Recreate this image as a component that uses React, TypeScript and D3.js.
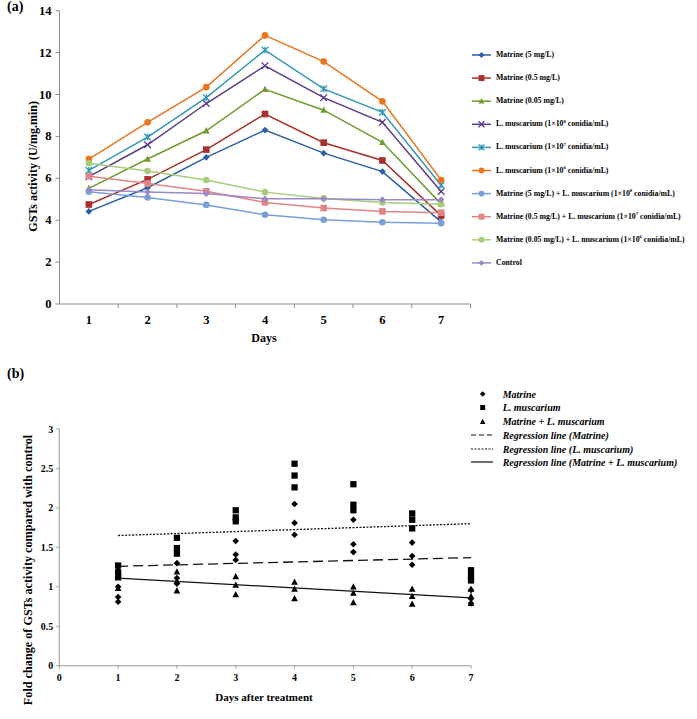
import React from "react";
import * as d3 from "d3";

// ---------- Chart (a) data ----------
const daysA = [1, 2, 3, 4, 5, 6, 7];
const seriesNamesA = [
  "Matrine (5 mg/L)",
  "Matrine (0.5 mg/L)",
  "Matrine (0.05 mg/L)",
  "L. muscarium (1×10|8| conidia/mL)",
  "L. muscarium (1×10|7| conidia/mL)",
  "L. muscarium (1×10|6| conidia/mL)",
  "Matrine (5 mg/L) + L. muscarium (1×10|8| conidia/mL)",
  "Matrine (0.5 mg/L) + L. muscarium (1×10|7| conidia/mL)",
  "Matrine (0.05 mg/L) + L. muscarium (1×10|6| conidia/mL)",
  "Control",
];
const matrine5 = [4.42, 5.55, 7.0, 8.3, 7.2, 6.32, 3.92];
const matrine05 = [4.75, 5.95, 7.37, 9.07, 7.7, 6.85, 4.22];
const matrine005 = [5.52, 6.92, 8.27, 10.25, 9.25, 7.72, 4.78];
const lm8 = [6.08, 7.6, 9.57, 11.37, 9.85, 8.67, 5.37];
const lm7 = [6.38, 7.97, 9.85, 12.12, 10.27, 9.15, 5.67];
const lm6 = [6.92, 8.67, 10.35, 12.82, 11.57, 9.67, 5.92];
const combo5 = [5.36, 5.08, 4.73, 4.26, 4.02, 3.9, 3.86];
const combo05 = [6.1, 5.75, 5.38, 4.85, 4.58, 4.42, 4.36];
const combo005 = [6.72, 6.35, 5.92, 5.34, 5.04, 4.85, 4.76];
const control = [5.45, 5.35, 5.27, 5.02, 5.02, 4.98, 4.98];
const seriesValuesA = [matrine5, matrine05, matrine005, lm8, lm7, lm6, combo5, combo05, combo005, control];
const colorsA = ["#2b5ea8", "#a8302c", "#6f9b30", "#5a3c8c", "#3197b4", "#e8761f", "#7a9ed8", "#e08586", "#a6cc7c", "#9a89c6"];
const markersA = ["diamond", "square", "triangle", "x", "star", "circle", "circle", "square", "circle", "diamond"];
const yTicksA = [0, 2, 4, 6, 8, 10, 12, 14];

// ---------- Chart (b) data ----------
const daysB = [1, 2, 3, 4, 5, 6, 7];
const matrineFold = [
  [0.81, 0.87, 1.0],
  [1.04, 1.11, 1.3],
  [1.34, 1.41, 1.58],
  [1.66, 1.81, 2.05],
  [1.44, 1.54, 1.85],
  [1.28, 1.39, 1.56],
  [0.79, 0.85, 0.96],
];
const lmFold = [
  [1.12, 1.18, 1.27],
  [1.42, 1.49, 1.62],
  [1.83, 1.88, 1.97],
  [2.26, 2.41, 2.56],
  [1.97, 2.04, 2.3],
  [1.74, 1.85, 1.93],
  [1.08, 1.14, 1.21],
];
const comboFold = [
  [0.98, 1.12, 1.23],
  [0.95, 1.07, 1.19],
  [0.9, 1.02, 1.13],
  [0.85, 0.97, 1.06],
  [0.8, 0.92, 1.0],
  [0.78, 0.88, 0.97],
  [0.79, 0.88, 0.97],
];
const regDays = [1, 7];
const regMatrine = [1.26, 1.37];
const regLm = [1.65, 1.8];
const regCombo = [1.11, 0.86];
const xTicksB = [0, 1, 2, 3, 4, 5, 6, 7];
const yTicksB = [0, 0.5, 1, 1.5, 2, 2.5, 3];
const legendB = [
  "Matrine",
  "L. muscarium",
  "Matrine + L. muscarium",
  "Regression line (Matrine)",
  "Regression line (L. muscarium)",
  "Regression line (Matrine + L. muscarium)",
];

const FONT = "'Liberation Serif', 'Times New Roman', serif";

function Marker({ type, x, y, color, s = 1 }: { type: string; x: number; y: number; color: string; s?: number }) {
  const r = 3.3 * s;
  switch (type) {
    case "diamond":
      return <path d={`M${x},${y - r}L${x + r},${y}L${x},${y + r}L${x - r},${y}Z`} fill={color} />;
    case "square":
      return <rect x={x - r} y={y - r} width={2 * r} height={2 * r} fill={color} />;
    case "triangle":
      return <path d={`M${x},${y - r * 1.1}L${x + r},${y + r * 0.8}L${x - r},${y + r * 0.8}Z`} fill={color} />;
    case "x":
      return (
        <path d={`M${x - r},${y - r}L${x + r},${y + r}M${x - r},${y + r}L${x + r},${y - r}`} stroke={color} strokeWidth={1.3} fill="none" />
      );
    case "star":
      return (
        <path
          d={`M${x - r},${y - r}L${x + r},${y + r}M${x - r},${y + r}L${x + r},${y - r}M${x},${y - r}L${x},${y + r}`}
          stroke={color}
          strokeWidth={1.3}
          fill="none"
        />
      );
    default:
      return <circle cx={x} cy={y} r={r} fill={color} />;
  }
}

function LegendText({ text, x, y, size }: { text: string; x: number; y: number; size: number }) {
  const parts = text.split("|");
  return (
    <text x={x} y={y} fontSize={size} fontWeight="bold" fontFamily={FONT} dominantBaseline="middle">
      {parts.map((p, i) =>
        i % 2 === 1 ? (
          <tspan key={i} fontSize={size * 0.6} dy={-size * 0.35}>
            {p}
          </tspan>
        ) : (
          <tspan key={i} dy={i > 0 ? size * 0.35 : 0}>
            {p}
          </tspan>
        )
      )}
    </text>
  );
}

function ChartA() {
  const left = 59.5, right = 470.5, top = 10.7, bottom = 304;
  const x = d3.scaleBand<number>().domain(daysA).range([left, right]);
  const y = d3.scaleLinear().domain([0, 14]).range([bottom, top]);
  const line = d3
    .line<number>()
    .x((_, i) => (x(daysA[i]) as number) + x.bandwidth() / 2)
    .y((v) => y(v));
  const axisColor = "#8c8c8c";
  return (
    <g>
      <text x={7} y={11} fontSize={14} fontWeight="bold" fontFamily={FONT}>(a)</text>
      {/* y axis */}
      <line x1={left} x2={left} y1={top} y2={bottom} stroke={axisColor} strokeWidth={1} />
      {yTicksA.map((t) => (
        <g key={t}>
          <line x1={left - 4} x2={left} y1={y(t)} y2={y(t)} stroke={axisColor} />
          <text x={left - 8} y={y(t)} textAnchor="end" dominantBaseline="central" fontSize={12.5} fontWeight="bold" fontFamily={FONT}>
            {t}
          </text>
        </g>
      ))}
      {/* x axis */}
      <line x1={left} x2={right} y1={bottom} y2={bottom} stroke={axisColor} strokeWidth={1} />
      {daysA.map((d) => (
        <g key={d}>
          <line x1={(x(d) as number) + x.bandwidth()} x2={(x(d) as number) + x.bandwidth()} y1={bottom} y2={bottom + 4} stroke={axisColor} />
          <text x={(x(d) as number) + x.bandwidth() / 2} y={bottom + 16} textAnchor="middle" fontSize={12.5} fontWeight="bold" fontFamily={FONT} dominantBaseline="central">
            {d}
          </text>
        </g>
      ))}
      <text x={264} y={338} textAnchor="middle" fontSize={12} fontWeight="bold" fontFamily={FONT} dominantBaseline="central">
        Days
      </text>
      <text
        transform={`translate(33,${(top + bottom) / 2 + 9}) rotate(-90)`}
        textAnchor="middle"
        fontSize={12}
        fontWeight="bold"
        fontFamily={FONT}
        dominantBaseline="central"
      >
        GSTs activity (U/mg.min)
      </text>
      {/* series */}
      {seriesValuesA.map((vals, si) => (
        <g key={si}>
          <path d={line(vals) || ""} fill="none" stroke={colorsA[si]} strokeWidth={1.5} />
          {vals.map((v, i) => (
            <Marker key={i} type={markersA[si]} x={(x(daysA[i]) as number) + x.bandwidth() / 2} y={y(v)} color={colorsA[si]} />
          ))}
        </g>
      ))}
      {/* legend */}
      {seriesNamesA.map((name, i) => {
        const ly = 55 + i * 23.1;
        return (
          <g key={i}>
            <line x1={472} x2={491} y1={ly} y2={ly} stroke={colorsA[i]} strokeWidth={1.5} />
            <Marker type={markersA[i]} x={481.5} y={ly} color={colorsA[i]} s={0.9} />
            <LegendText text={name} x={496} y={ly} size={7.8} />
          </g>
        );
      })}
    </g>
  );
}

function ChartB() {
  const left = 59.3, right = 471, top = 429, bottom = 665.7;
  const x = d3.scaleLinear().domain([0, 7]).range([left, right]);
  const y = d3.scaleLinear().domain([0, 3]).range([bottom, top]);
  const axisColor = "#9a9a9a";
  const reg = (vals: number[], dash: string | undefined, w: number, key: string) => {
    const l = d3
      .line<number>()
      .x((_, i) => x(regDays[i]))
      .y((v) => y(v));
    return <path key={key} d={l(vals) || ""} fill="none" stroke="#111" strokeWidth={w} strokeDasharray={dash} />;
  };
  const pts = (data: number[][], type: string) =>
    data.map((vals, di) =>
      vals.map((v, j) => <Marker key={`${type}-${di}-${j}`} type={type} x={x(daysB[di])} y={y(v)} color="#000" s={type === "square" ? 0.95 : 1.0} />)
    );
  const legY = [394, 407.5, 421.3, 435, 449, 462];
  return (
    <g>
      <text x={7} y={373} fontSize={14} fontWeight="bold" fontFamily={FONT} dominantBaseline="central">(b)</text>
      <line x1={left} x2={left} y1={top} y2={bottom} stroke={axisColor} />
      {yTicksB.map((t) => (
        <g key={t}>
          <line x1={left - 3} x2={left} y1={y(t)} y2={y(t)} stroke={axisColor} />
          <text x={left - 6} y={y(t)} textAnchor="end" dominantBaseline="central" fontSize={10} fontWeight="bold" fontFamily={FONT}>
            {t}
          </text>
        </g>
      ))}
      <line x1={left} x2={right} y1={bottom} y2={bottom} stroke={axisColor} />
      {xTicksB.map((t) => (
        <g key={t}>
          <line x1={x(t)} x2={x(t)} y1={bottom} y2={bottom + 3} stroke={axisColor} />
          <text x={x(t)} y={bottom + 12} textAnchor="middle" dominantBaseline="central" fontSize={10} fontWeight="bold" fontFamily={FONT}>
            {t}
          </text>
        </g>
      ))}
      <text x={264} y={697} textAnchor="middle" dominantBaseline="central" fontSize={11} fontWeight="bold" fontFamily={FONT}>
        Days after treatment
      </text>
      <text
        transform={`translate(28,570) rotate(-90)`}
        textAnchor="middle"
        dominantBaseline="central"
        fontSize={12.2}
        fontWeight="bold"
        fontFamily={FONT}
      >
        Fold change of GSTs activity compared with control
      </text>
      {reg(regLm, "2,1.5", 1.3, "lm")}
      {reg(regMatrine, "10,5", 1.3, "m")}
      {reg(regCombo, undefined, 1.2, "c")}
      {pts(lmFold, "square")}
      {pts(matrineFold, "diamond")}
      {pts(comboFold, "triangle")}
      {/* legend */}
      {legendB.map((name, i) => {
        const ly = legY[i];
        let sample: React.ReactNode;
        if (i === 0) sample = <Marker type="diamond" x={482.7} y={ly} color="#000" s={0.85} />;
        else if (i === 1) sample = <Marker type="square" x={482.7} y={ly} color="#000" s={0.75} />;
        else if (i === 2) sample = <Marker type="triangle" x={482.7} y={ly + 0.5} color="#000" s={0.85} />;
        else
          sample = (
            <line
              x1={471}
              x2={493}
              y1={ly}
              y2={ly}
              stroke="#111"
              strokeWidth={1.2}
              strokeDasharray={i === 3 ? "5,3" : i === 4 ? "2,1.5" : undefined}
            />
          );
        return (
          <g key={i}>
            {sample}
            <text x={502.7} y={ly} dominantBaseline="central" fontSize={10} fontWeight="bold" fontStyle="italic" fontFamily={FONT}>
              {name}
            </text>
          </g>
        );
      })}
    </g>
  );
}

export default function App() {
  return (
    <svg width={697} height={719} style={{ display: "block", position: "absolute", left: 0, top: 0, background: "#fff" }}>
      <rect width={697} height={719} fill="#fff" />
      <ChartA />
      <ChartB />
    </svg>
  );
}
